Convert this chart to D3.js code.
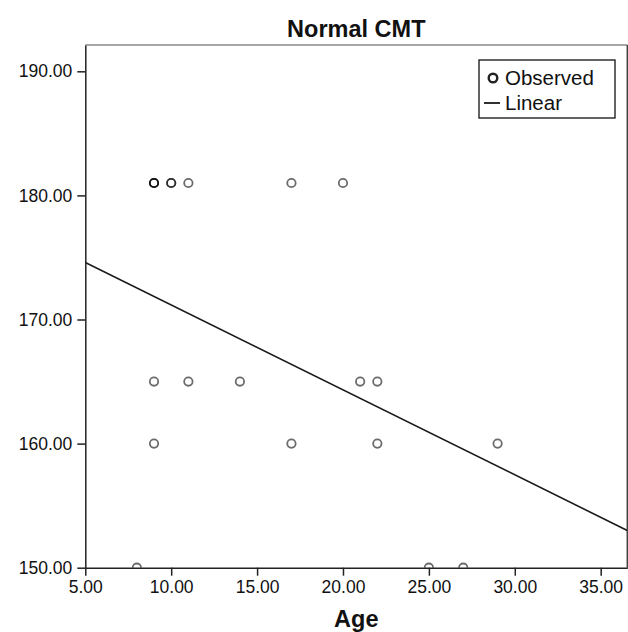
<!DOCTYPE html>
<html>
<head>
<meta charset="utf-8">
<script src="https://cdn.jsdelivr.net/npm/d3@7"></script>
<style>
  body { margin: 0; background: #fff; }
  svg text { font-family: "Liberation Sans", Arial, sans-serif; fill: #111; }
  .axis path, .axis line { stroke: #222; stroke-width: 1.5; }
  .axis text { font-size: 17.5px; }
</style>
</head>
<body>
<div id="chart"></div>
<script>
// observed points (age, CMT); repeated entries are overlapping cases
var ageValues = [8, 9, 9, 9, 10, 10, 11, 17, 20, 9, 11, 14, 21, 22, 9, 17, 22, 29, 25, 27];
var cmtValues = [150, 181, 181, 181, 181, 181, 181, 181, 181, 165, 165, 165, 165, 165, 160, 160, 160, 160, 150, 150];

// linear fit, read at the two ends of the plot
var fitAge = [5, 36.55];
var fitCmt = [174.6, 153.0];

var xTicks = [5, 10, 15, 20, 25, 30, 35];
var yTicks = [150, 160, 170, 180, 190];

var width = 628, height = 632;
var plotLeft = 85.3, plotRight = 627.3, plotTop = 45, plotBottom = 567.7;

var svg = d3.select("#chart").append("svg")
    .attr("width", width)
    .attr("height", height);

var x = d3.scaleLinear().domain([5, 36.55]).range([plotLeft, plotRight]);
var y = d3.scaleLinear().domain([150, 192.12]).range([plotBottom, plotTop]);

svg.append("defs").append("clipPath").attr("id", "plotclip")
  .append("rect")
    .attr("x", plotLeft).attr("y", plotTop)
    .attr("width", plotRight - plotLeft).attr("height", plotBottom - plotTop);

// frame top / right
svg.append("line")
    .attr("x1", plotLeft).attr("x2", plotRight)
    .attr("y1", plotTop).attr("y2", plotTop)
    .attr("stroke", "#8a8a8a").attr("stroke-width", 1.5);
svg.append("line")
    .attr("x1", plotRight).attr("x2", plotRight)
    .attr("y1", plotTop).attr("y2", plotBottom)
    .attr("stroke", "#444").attr("stroke-width", 1.5);

var plot = svg.append("g").attr("clip-path", "url(#plotclip)");

// fit line
var line = d3.line()
    .x(function(d) { return x(d[0]); })
    .y(function(d) { return y(d[1]); });

plot.append("path")
    .datum(d3.zip(fitAge, fitCmt))
    .attr("d", line)
    .attr("fill", "none")
    .attr("stroke", "#1a1a1a")
    .attr("stroke-width", 1.6);

// observed circles
plot.selectAll("circle.obs")
    .data(d3.zip(ageValues, cmtValues))
    .enter().append("circle")
    .attr("class", "obs")
    .attr("cx", function(d) { return x(d[0]); })
    .attr("cy", function(d) { return y(d[1]); })
    .attr("r", 4.2)
    .attr("fill", "none")
    .attr("stroke", "#000")
    .attr("stroke-opacity", 0.58)
    .attr("stroke-width", 1.8);

// axes
svg.append("g")
    .attr("class", "axis")
    .attr("transform", "translate(0," + plotBottom + ")")
    .call(d3.axisBottom(x).tickValues(xTicks).tickSize(8).tickSizeOuter(0).tickPadding(5)
      .tickFormat(d3.format(".2f")));

svg.append("g")
    .attr("class", "axis")
    .attr("transform", "translate(" + plotLeft + ",0)")
    .call(d3.axisLeft(y).tickValues(yTicks).tickSize(8).tickSizeOuter(0).tickPadding(5)
      .tickFormat(d3.format(".2f")));

// titles
svg.append("text")
    .attr("x", (plotLeft + plotRight) / 2).attr("y", 37)
    .attr("text-anchor", "middle")
    .attr("font-size", "23.5px").attr("font-weight", "bold")
    .text("Normal CMT");

svg.append("text")
    .attr("x", (plotLeft + plotRight) / 2).attr("y", 627)
    .attr("text-anchor", "middle")
    .attr("font-size", "23.5px").attr("font-weight", "bold")
    .text("Age");

// legend
var lg = svg.append("g").attr("transform", "translate(479,60)");
lg.append("rect")
    .attr("width", 136).attr("height", 58)
    .attr("fill", "#fff").attr("stroke", "#111").attr("stroke-width", 1.3);
lg.append("circle")
    .attr("cx", 14).attr("cy", 18).attr("r", 4.3)
    .attr("fill", "none").attr("stroke", "#222").attr("stroke-width", 2.4);
lg.append("text")
    .attr("x", 26).attr("y", 18).attr("dy", "0.35em")
    .attr("font-size", "20.5px").text("Observed");
lg.append("line")
    .attr("x1", 5).attr("x2", 21).attr("y1", 43).attr("y2", 43)
    .attr("stroke", "#1a1a1a").attr("stroke-width", 1.8);
lg.append("text")
    .attr("x", 26).attr("y", 43).attr("dy", "0.35em")
    .attr("font-size", "20.5px").text("Linear");
</script>
</body>
</html>
